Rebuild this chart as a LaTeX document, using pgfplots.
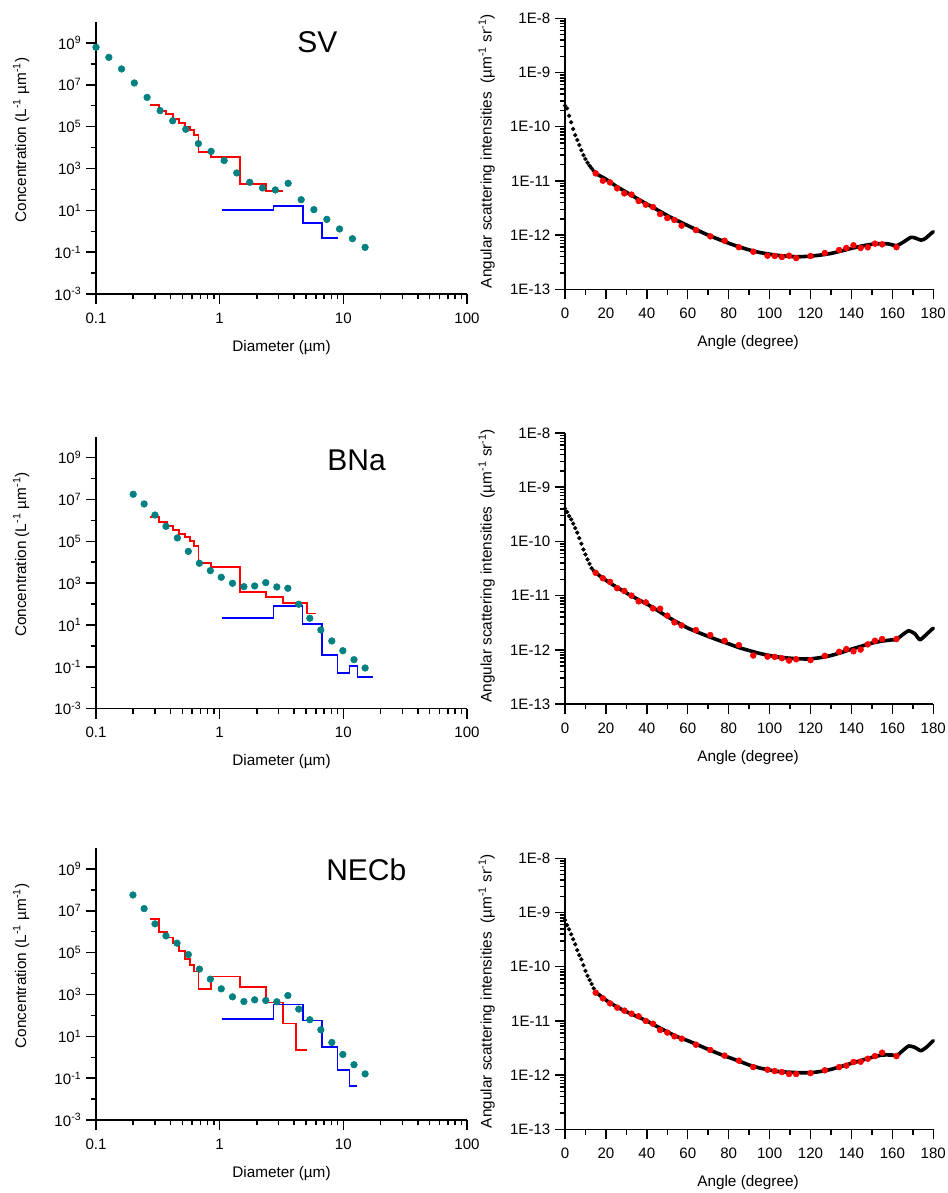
\documentclass[border=0pt]{standalone}
\usepackage{fontspec}
\setmainfont{Liberation Sans}
\usepackage{pgfplots}
\pgfplotsset{compat=1.18}
\definecolor{dteal}{RGB}{0,128,128}
\definecolor{bblue}{RGB}{0,0,255}
\definecolor{rred}{RGB}{255,0,0}
\pgfplotsset{
  every axis/.append style={
    scale only axis,
    axis line style={line width=1.2pt},
    tick align=outside,
    major tick length=7.5pt,
    minor tick length=4pt,
    major tick style={line width=1.1pt,black},
    minor tick style={line width=1.1pt,black},
    tick label style={font=\fontsize{11.3}{13}\selectfont},
    xticklabel style={yshift=-3pt},
    label style={font=\fontsize{11.5}{13}\selectfont},
    /pgf/number format/assume math mode=true,
    clip=false,
  },
}
\begin{document}
\begin{tikzpicture}[x=1pt,y=1pt]
\useasboundingbox (0,0) rectangle (710.25,-894.75);

% ---------------- Row 1 left: SV ----------------
\begin{axis}[at={(72pt,-220.5pt)}, anchor=south west,
    axis x line*=bottom, axis y line*=left,
    width=278.25pt, height=204pt,
    xmode=log, ymode=log,
    xmin=0.1, xmax=100, ymin=1e-3, ymax=1e10,
    xtick={0.1,1,10,100}, xticklabels={0.1,1,10,100},
    minor xtick={0.2,0.3,0.4,0.5,0.6,0.7,0.8,0.9,2,3,4,5,6,7,8,9,20,30,40,50,60,70,80,90},
    ytick={1e-3,1e-1,1e1,1e3,1e5,1e7,1e9},
    yticklabels={10\textsuperscript{-3},10\textsuperscript{-1},10\textsuperscript{1},10\textsuperscript{3},10\textsuperscript{5},10\textsuperscript{7},10\textsuperscript{9}},
    minor ytick={1e-2,1,1e2,1e4,1e6,1e8},
    xlabel={Diameter (µm)},
    ylabel={Concentration (L\textsuperscript{-1} µm\textsuperscript{-1})},
    xlabel style={at={(axis description cs:0.5,-0.195)},anchor=center},
    ylabel style={at={(axis description cs:-0.2015,0.567)},anchor=center}]
\addplot[const plot, no marks, color=rred, line width=1.3pt] coordinates {(0.274,1.05e6) (0.325,5.6e5) (0.368,3.9e5) (0.418,2.24e5) (0.472,1.54e5) (0.525,9.9e4) (0.576,6.9e4) (0.621,4.0e4) (0.673,5.9e3) (0.848,3.66e3) (1.46,175) (2.37,87) (3.27,87)};
\addplot[const plot, no marks, color=bblue, line width=1.3pt] coordinates {(1.04,10.4) (2.72,16.1) (4.71,2.57) (6.7,0.49) (9.04,0.49)};
\addplot[only marks, mark=*, mark size=2.5pt, color=dteal] coordinates {(0.1,6.2e8) (0.127,2.05e8) (0.161,5.7e7) (0.204,1.22e7) (0.259,2.5e6) (0.330,5.8e5) (0.417,1.9e5) (0.532,7.5e4) (0.673,1.54e4) (0.853,6.6e3) (1.087,2.4e3) (1.375,610) (1.75,218) (2.22,117) (2.82,94) (3.58,195) (4.56,32) (5.78,10.8) (7.36,3.7) (9.32,1.28) (11.85,0.44) (15.0,0.17)};
\node[anchor=west, inner sep=0, font=\fontsize{22.5}{26}\selectfont] at (rel axis cs:0.542,0.926) {SV};
\end{axis}

% ---------------- Row 1 right ----------------
\begin{axis}[at={(423.75pt,-217pt)}, anchor=south west,
    axis x line*=bottom, axis y line*=left,
    width=276.2pt, height=203.25pt,
    ymode=log,
    xmin=0, xmax=180, ymin=1e-13, ymax=1e-8,
    xtick={0,20,40,60,80,100,120,140,160,180},
    xticklabels={0,20,40,60,80,100,120,140,160,180},
    minor xtick={10,30,50,70,90,110,130,150,170},
    ytick={1e-13,1e-12,1e-11,1e-10,1e-9,1e-8},
    yticklabels={1E-13,1E-12,1E-11,1E-10,1E-9,1E-8},
    minor ytick={2e-13,3e-13,4e-13,5e-13,6e-13,7e-13,8e-13,9e-13,2e-12,3e-12,4e-12,5e-12,6e-12,7e-12,8e-12,9e-12,2e-11,3e-11,4e-11,5e-11,6e-11,7e-11,8e-11,9e-11,2e-10,3e-10,4e-10,5e-10,6e-10,7e-10,8e-10,9e-10,2e-9,3e-9,4e-9,5e-9,6e-9,7e-9,8e-9,9e-9},
    xlabel={Angle (degree)},
    ylabel={Angular scattering intensities \ (µm\textsuperscript{-1} sr\textsuperscript{-1})},
    xlabel style={at={(axis description cs:0.497,-0.198)},anchor=center},
    ylabel style={at={(axis description cs:-0.2126,0.51)},anchor=center}]
\addplot[only marks, mark=*, mark size=1.4pt, color=black] coordinates {(0,2.46e-10) (1,2.18e-10) (2,1.60e-10) (3,1.21e-10) (4,9.1e-11) (5,7.0e-11) (6,5.7e-11) (7,4.6e-11) (8,3.7e-11) (9,3.0e-11) (10,2.54e-11) (11,2.17e-11) (12,1.91e-11) (13,1.71e-11) (14,1.52e-11)};
\addplot[no marks, color=black, line width=2.7pt, line join=round, line cap=round, smooth, tension=0.3] coordinates {(15,1.37e-11) (20,1.08e-11) (25,8.0e-12) (30,6.2e-12) (35,4.8e-12) (40,3.75e-12) (45,2.95e-12) (50,2.3e-12) (55,1.85e-12) (60,1.5e-12) (65,1.22e-12) (70,1.0e-12) (75,8.4e-13) (80,7.1e-13) (85,6.1e-13) (90,5.35e-13) (95,4.8e-13) (100,4.45e-13) (105,4.2e-13) (110,4.05e-13) (115,4.0e-13) (120,4.1e-13) (125,4.3e-13) (130,4.6e-13) (135,5.1e-13) (140,5.7e-13) (145,6.3e-13) (150,6.8e-13) (155,7.0e-13) (158,6.9e-13) (162,6.4e-13) (165,7.3e-13) (169,9.1e-13) (171,8.9e-13) (174,8.1e-13) (176,8.6e-13) (178,1.0e-12) (180,1.16e-12)};
\addplot[only marks, mark=*, mark size=2.2pt, color=rred] coordinates {(15,1.38e-11) (18.5,1.01e-11) (22,9.4e-12) (25.5,7.3e-12) (29,5.9e-12) (32.5,5.6e-12) (36,4.27e-12) (39.5,3.65e-12) (43,3.30e-12) (46.5,2.45e-12) (50,2.07e-12) (53.5,1.90e-12) (57,1.50e-12) (64,1.24e-12) (71,9.5e-13) (78,7.9e-13) (85,6.0e-13) (92,4.95e-13) (99,4.18e-13) (102.5,4.12e-13) (106,3.95e-13) (109.5,4.18e-13) (113,3.78e-13) (120,4.12e-13) (127,4.68e-13) (134,5.32e-13) (137.5,5.8e-13) (141,6.5e-13) (144.5,5.8e-13) (148,5.96e-13) (151.5,6.97e-13) (155,6.76e-13) (162,6.0e-13)};
\end{axis}

% ---------------- Row 2 left: BNa ----------------
\begin{axis}[at={(72pt,-531.5pt)}, anchor=south west,
    axis x line*=bottom, axis y line*=left,
    width=278.25pt, height=204pt,
    xmode=log, ymode=log,
    xmin=0.1, xmax=100, ymin=1e-3, ymax=1e10,
    xtick={0.1,1,10,100}, xticklabels={0.1,1,10,100},
    minor xtick={0.2,0.3,0.4,0.5,0.6,0.7,0.8,0.9,2,3,4,5,6,7,8,9,20,30,40,50,60,70,80,90},
    ytick={1e-3,1e-1,1e1,1e3,1e5,1e7,1e9},
    yticklabels={10\textsuperscript{-3},10\textsuperscript{-1},10\textsuperscript{1},10\textsuperscript{3},10\textsuperscript{5},10\textsuperscript{7},10\textsuperscript{9}},
    minor ytick={1e-2,1,1e2,1e4,1e6,1e8},
    xlabel={Diameter (µm)},
    ylabel={Concentration (L\textsuperscript{-1} µm\textsuperscript{-1})},
    xlabel style={at={(axis description cs:0.5,-0.195)},anchor=center},
    ylabel style={at={(axis description cs:-0.2015,0.567)},anchor=center}]
\addplot[const plot, no marks, color=rred, line width=1.3pt] coordinates {(0.274,1.5e6) (0.325,8.1e5) (0.373,5.6e5) (0.422,3.5e5) (0.472,2.24e5) (0.525,1.67e5) (0.576,1.04e5) (0.621,6.0e4) (0.673,8.9e3) (0.848,5.9e3) (1.46,366) (2.37,211) (3.27,117) (5.07,35) (6.0,35)};
\addplot[const plot, no marks, color=bblue, line width=1.3pt] coordinates {(1.04,21.7) (2.72,81) (4.67,11.2) (6.70,0.38) (8.96,0.049) (11.2,0.114) (13.0,0.032) (17.5,0.032)};
\addplot[only marks, mark=*, mark size=2.5pt, color=dteal] coordinates {(0.200,1.77e7) (0.245,6.1e6) (0.300,1.8e6) (0.368,5.2e5) (0.455,1.45e5) (0.558,3.3e4) (0.686,8.9e3) (0.841,3.95e3) (1.03,1.91e3) (1.27,986) (1.57,679) (1.92,733) (2.36,1054) (2.90,657) (3.56,569) (4.36,98) (5.36,21) (6.58,5.8) (8.07,1.72) (9.91,0.59) (12.2,0.22) (15.0,0.088)};
\node[anchor=west, inner sep=0, font=\fontsize{22.5}{26}\selectfont] at (rel axis cs:0.623,0.912) {BNa};
\end{axis}

% ---------------- Row 2 right ----------------
\begin{axis}[at={(423.75pt,-528pt)}, anchor=south west,
    axis x line*=bottom, axis y line*=left,
    width=276.2pt, height=203.25pt,
    ymode=log,
    xmin=0, xmax=180, ymin=1e-13, ymax=1e-8,
    xtick={0,20,40,60,80,100,120,140,160,180},
    xticklabels={0,20,40,60,80,100,120,140,160,180},
    minor xtick={10,30,50,70,90,110,130,150,170},
    ytick={1e-13,1e-12,1e-11,1e-10,1e-9,1e-8},
    yticklabels={1E-13,1E-12,1E-11,1E-10,1E-9,1E-8},
    minor ytick={2e-13,3e-13,4e-13,5e-13,6e-13,7e-13,8e-13,9e-13,2e-12,3e-12,4e-12,5e-12,6e-12,7e-12,8e-12,9e-12,2e-11,3e-11,4e-11,5e-11,6e-11,7e-11,8e-11,9e-11,2e-10,3e-10,4e-10,5e-10,6e-10,7e-10,8e-10,9e-10,2e-9,3e-9,4e-9,5e-9,6e-9,7e-9,8e-9,9e-9},
    xlabel={Angle (degree)},
    ylabel={Angular scattering intensities \ (µm\textsuperscript{-1} sr\textsuperscript{-1})},
    xlabel style={at={(axis description cs:0.497,-0.198)},anchor=center},
    ylabel style={at={(axis description cs:-0.2126,0.51)},anchor=center}]
\addplot[only marks, mark=*, mark size=1.4pt, color=black] coordinates {(0,4.04e-10) (1,3.49e-10) (2,2.94e-10) (3,2.55e-10) (4,2.13e-10) (5,1.76e-10) (6,1.45e-10) (7,1.15e-10) (8,9.05e-11) (9,7.1e-11) (10,5.74e-11) (11,4.65e-11) (12,3.86e-11) (13,3.21e-11) (14,2.86e-11)};
\addplot[no marks, color=black, line width=2.7pt, line join=round, line cap=round, smooth, tension=0.3] coordinates {(15,2.63e-11) (20,1.92e-11) (25,1.45e-11) (30,1.12e-11) (35,8.8e-12) (40,7.0e-12) (45,5.4e-12) (50,4.1e-12) (55,3.2e-12) (60,2.52e-12) (65,2.1e-12) (70,1.77e-12) (75,1.5e-12) (80,1.29e-12) (85,1.1e-12) (90,9.7e-13) (95,8.6e-13) (100,7.85e-13) (105,7.3e-13) (110,7.0e-13) (115,6.8e-13) (120,6.8e-13) (125,7.2e-13) (130,7.85e-13) (135,8.9e-13) (140,1.03e-12) (145,1.17e-12) (150,1.33e-12) (155,1.45e-12) (160,1.53e-12) (162,1.55e-12) (165,1.90e-12) (168,2.25e-12) (171,1.98e-12) (173.5,1.53e-12) (177,1.98e-12) (180,2.52e-12)};
\addplot[only marks, mark=*, mark size=2.2pt, color=rred] coordinates {(15,2.63e-11) (18.5,2.09e-11) (22,1.79e-11) (25.5,1.37e-11) (29,1.22e-11) (32.5,1.0e-11) (36,7.85e-12) (39.5,7.5e-12) (43,5.8e-12) (46.5,5.74e-12) (50,4.27e-12) (53.5,3.21e-12) (57,2.82e-12) (64,2.31e-12) (71,1.87e-12) (78,1.47e-12) (85,1.22e-12) (92,7.85e-13) (99,7.5e-13) (102.5,7.4e-13) (106,7.0e-13) (109.5,6.34e-13) (113,6.7e-13) (120,6.45e-13) (127,7.75e-13) (134,9.2e-13) (137.5,1.03e-12) (141,9.4e-13) (144.5,1.01e-12) (148,1.26e-12) (151.5,1.47e-12) (155,1.58e-12) (162,1.58e-12)};
\end{axis}

% ---------------- Row 3 left: NECb ----------------
\begin{axis}[at={(72pt,-840pt)}, anchor=south west,
    axis x line*=bottom, axis y line*=left,
    width=278.25pt, height=204pt,
    xmode=log, ymode=log,
    xmin=0.1, xmax=100, ymin=1e-3, ymax=1e10,
    xtick={0.1,1,10,100}, xticklabels={0.1,1,10,100},
    minor xtick={0.2,0.3,0.4,0.5,0.6,0.7,0.8,0.9,2,3,4,5,6,7,8,9,20,30,40,50,60,70,80,90},
    ytick={1e-3,1e-1,1e1,1e3,1e5,1e7,1e9},
    yticklabels={10\textsuperscript{-3},10\textsuperscript{-1},10\textsuperscript{1},10\textsuperscript{3},10\textsuperscript{5},10\textsuperscript{7},10\textsuperscript{9}},
    minor ytick={1e-2,1,1e2,1e4,1e6,1e8},
    xlabel={Diameter (µm)},
    ylabel={Concentration (L\textsuperscript{-1} µm\textsuperscript{-1})},
    xlabel style={at={(axis description cs:0.5,-0.195)},anchor=center},
    ylabel style={at={(axis description cs:-0.2015,0.567)},anchor=center}]
\addplot[const plot, no marks, color=rred, line width=1.3pt] coordinates {(0.274,3.97e6) (0.325,9.8e5) (0.373,5.25e5) (0.422,2.84e5) (0.472,1.22e5) (0.525,5.0e4) (0.576,2.6e4) (0.621,1.25e4) (0.673,1.86e3) (0.848,7.2e3) (1.46,2.25e3) (2.37,413) (3.27,41) (4.13,2.2) (5.07,2.2)};
\addplot[const plot, no marks, color=bblue, line width=1.3pt] coordinates {(1.04,69) (2.72,332) (4.70,57) (6.70,3.06) (8.96,0.25) (11.2,0.043) (13.0,0.043)};
\addplot[only marks, mark=*, mark size=2.5pt, color=dteal] coordinates {(0.199,5.7e7) (0.245,1.27e7) (0.300,2.37e6) (0.368,6.3e5) (0.452,2.84e5) (0.558,8.1e4) (0.686,1.63e4) (0.841,5.4e3) (1.03,1.86e3) (1.27,773) (1.57,461) (1.92,556) (2.36,515) (2.90,447) (3.56,891) (4.36,200) (5.36,62) (6.58,20.5) (8.07,5.1) (9.91,1.36) (12.2,0.44) (15.0,0.16)};
\node[anchor=west, inner sep=0, font=\fontsize{22.5}{26}\selectfont] at (rel axis cs:0.62,0.919) {NECb};
\end{axis}

% ---------------- Row 3 right ----------------
\begin{axis}[at={(423.75pt,-847pt)}, anchor=south west,
    axis x line*=bottom, axis y line*=left,
    width=276.2pt, height=203.25pt,
    ymode=log,
    xmin=0, xmax=180, ymin=1e-13, ymax=1e-8,
    xtick={0,20,40,60,80,100,120,140,160,180},
    xticklabels={0,20,40,60,80,100,120,140,160,180},
    minor xtick={10,30,50,70,90,110,130,150,170},
    ytick={1e-13,1e-12,1e-11,1e-10,1e-9,1e-8},
    yticklabels={1E-13,1E-12,1E-11,1E-10,1E-9,1E-8},
    minor ytick={2e-13,3e-13,4e-13,5e-13,6e-13,7e-13,8e-13,9e-13,2e-12,3e-12,4e-12,5e-12,6e-12,7e-12,8e-12,9e-12,2e-11,3e-11,4e-11,5e-11,6e-11,7e-11,8e-11,9e-11,2e-10,3e-10,4e-10,5e-10,6e-10,7e-10,8e-10,9e-10,2e-9,3e-9,4e-9,5e-9,6e-9,7e-9,8e-9,9e-9},
    xlabel={Angle (degree)},
    ylabel={Angular scattering intensities \ (µm\textsuperscript{-1} sr\textsuperscript{-1})},
    xlabel style={at={(axis description cs:0.497,-0.198)},anchor=center},
    ylabel style={at={(axis description cs:-0.2126,0.51)},anchor=center}]
\addplot[only marks, mark=*, mark size=1.4pt, color=black] coordinates {(0,7.28e-10) (1,5.87e-10) (2,4.90e-10) (3,3.96e-10) (4,3.21e-10) (5,2.59e-10) (6,2.03e-10) (7,1.64e-10) (8,1.37e-10) (9,1.07e-10) (10,8.4e-11) (11,6.8e-11) (12,5.7e-11) (13,4.8e-11) (14,3.99e-11)};
\addplot[no marks, color=black, line width=2.7pt, line join=round, line cap=round, smooth, tension=0.3] coordinates {(15,3.41e-11) (20,2.43e-11) (25,1.85e-11) (30,1.48e-11) (35,1.22e-11) (40,1.0e-11) (45,7.9e-12) (50,6.3e-12) (55,5.1e-12) (60,4.33e-12) (65,3.6e-12) (70,2.99e-12) (75,2.5e-12) (80,2.13e-12) (85,1.82e-12) (90,1.54e-12) (95,1.36e-12) (100,1.24e-12) (105,1.16e-12) (110,1.13e-12) (115,1.11e-12) (120,1.11e-12) (125,1.17e-12) (130,1.28e-12) (135,1.45e-12) (140,1.65e-12) (145,1.88e-12) (150,2.13e-12) (155,2.35e-12) (160,2.35e-12) (162,2.25e-12) (165,2.82e-12) (168,3.45e-12) (171,3.25e-12) (174,2.82e-12) (177,3.35e-12) (180,4.33e-12)};
\addplot[only marks, mark=*, mark size=2.2pt, color=rred] coordinates {(15,3.33e-11) (18.5,2.61e-11) (22,2.11e-11) (25.5,1.76e-11) (29,1.55e-11) (32.5,1.36e-11) (36,1.22e-11) (39.5,1.0e-11) (43,8.9e-12) (46.5,6.8e-12) (50,6.1e-12) (53.5,5.2e-12) (57,4.71e-12) (64,3.65e-12) (71,2.91e-12) (78,2.29e-12) (85,1.85e-12) (92,1.41e-12) (99,1.26e-12) (102.5,1.19e-12) (106,1.14e-12) (109.5,1.05e-12) (113,1.05e-12) (120,1.09e-12) (127,1.23e-12) (134,1.41e-12) (137.5,1.50e-12) (141,1.75e-12) (144.5,1.77e-12) (148,2.01e-12) (151.5,2.25e-12) (155,2.60e-12) (162,2.25e-12)};
\end{axis}
\end{tikzpicture}
\end{document}
